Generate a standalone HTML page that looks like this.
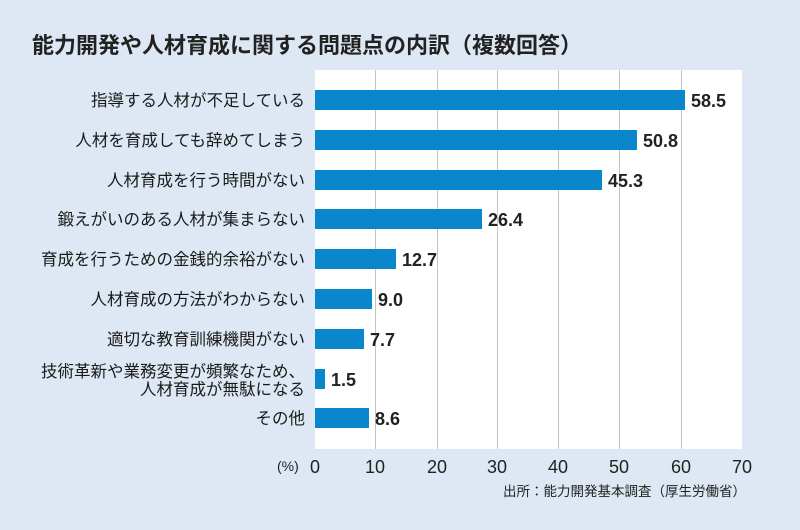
<!DOCTYPE html><html><head><meta charset="utf-8"><style>
body{margin:0;width:800px;height:530px;background:#dde8f4;font-family:"Liberation Sans","Noto Sans CJK JP",sans-serif;overflow:hidden}
</style></head><body>
<svg width="800" height="530" xmlns="http://www.w3.org/2000/svg" style="position:absolute;left:0;top:0">
<text x="32" y="53" font-size="22" font-weight="bold" fill="#222" font-family="Liberation Sans,Noto Sans CJK JP,sans-serif">能力開発や人材育成に関する問題点の内訳（複数回答）</text>
<rect x="315" y="70" width="427" height="379" fill="#fff"/>
<g stroke="#c4c4c4" stroke-width="1">
<line x1="375.5" y1="70" x2="375.5" y2="449"/><line x1="437.5" y1="70" x2="437.5" y2="449"/><line x1="497.5" y1="70" x2="497.5" y2="449"/><line x1="558.5" y1="70" x2="558.5" y2="449"/><line x1="619.5" y1="70" x2="619.5" y2="449"/><line x1="681.5" y1="70" x2="681.5" y2="449"/>
</g>
<g fill="#0a86cc">
<rect x="315" y="90" width="370" height="20"/>
<rect x="315" y="130" width="322" height="20"/>
<rect x="315" y="170" width="287" height="20"/>
<rect x="315" y="209" width="167" height="20"/>
<rect x="315" y="249" width="81" height="20"/>
<rect x="315" y="289" width="57" height="20"/>
<rect x="315" y="329" width="49" height="20"/>
<rect x="315" y="369" width="10" height="20"/>
<rect x="315" y="408" width="54" height="20"/>
</g>
<g font-size="18" font-weight="bold" fill="#222" font-family="Liberation Sans,sans-serif">
<text x="691" y="107">58.5</text><text x="643" y="147">50.8</text><text x="608" y="187">45.3</text><text x="488" y="226">26.4</text><text x="402" y="266">12.7</text><text x="378" y="306">9.0</text><text x="370" y="346">7.7</text><text x="331" y="386">1.5</text><text x="375" y="425">8.6</text>
</g>
<g font-size="16.5" fill="#1a1a1a" text-anchor="end" font-family="Liberation Sans,Noto Sans CJK JP,sans-serif">
<text x="305" y="106">指導する人材が不足している</text>
<text x="305" y="146">人材を育成しても辞めてしまう</text>
<text x="305" y="186">人材育成を行う時間がない</text>
<text x="305" y="225">鍛えがいのある人材が集まらない</text>
<text x="305" y="265">育成を行うための金銭的余裕がない</text>
<text x="305" y="305">人材育成の方法がわからない</text>
<text x="305" y="345">適切な教育訓練機関がない</text>
<text x="305" y="377">技術革新や業務変更が頻繁なため、</text>
<text x="305" y="395">人材育成が無駄になる</text>
<text x="305" y="424">その他</text>
</g>
<g font-size="18" fill="#222" text-anchor="middle" font-family="Liberation Sans,sans-serif">
<text x="315" y="473">0</text><text x="375" y="473">10</text><text x="437" y="473">20</text><text x="497" y="473">30</text><text x="558" y="473">40</text><text x="619" y="473">50</text><text x="681" y="473">60</text><text x="742" y="473">70</text>
</g>
<text x="277" y="471" font-size="14" fill="#222">(%)</text>
<text x="746" y="496" font-size="13.5" fill="#222" text-anchor="end" font-family="Liberation Sans,Noto Sans CJK JP,sans-serif">出所：能力開発基本調査（厚生労働省）</text>
</svg>
</body></html>
